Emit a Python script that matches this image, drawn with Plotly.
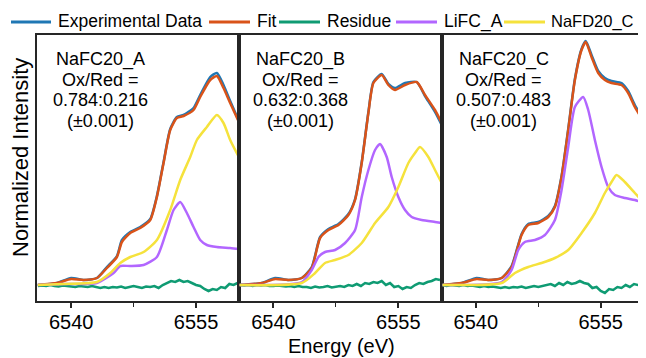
import plotly.graph_objects as go
from plotly.subplots import make_subplots

FONT = "Liberation Sans, Arial, sans-serif"

# ---------------- data (energy in eV, normalized intensity) ----------------
panel_names = ["NaFC20_A", "NaFC20_B", "NaFC20_C"]
ratio_labels = ["0.784:0.216", "0.632:0.368", "0.507:0.483"]
series_names = ["Experimental Data", "Fit", "Residue", "LiFC_A", "NaFD20_C"]

# Panel A
xA_fit = [6536.0, 6538.3, 6540.0, 6541.5, 6543.1, 6544.3, 6545.5, 6546.1, 6547.1, 6548.3, 6549.5,
          6550.3, 6551.1, 6551.9, 6552.7, 6553.5, 6554.7, 6555.5, 6556.7, 6557.5, 6558.3, 6559.1, 6560.2]
fitA = [0.00, 0.02, 0.06, 0.05, 0.07, 0.17, 0.28, 0.43, 0.52, 0.57, 0.65,
        0.88, 1.22, 1.55, 1.67, 1.69, 1.75, 1.88, 2.05, 2.09, 1.97, 1.82, 1.62]
expA = [0.00, 0.02, 0.07, 0.05, 0.07, 0.18, 0.29, 0.45, 0.53, 0.58, 0.66,
        0.89, 1.23, 1.56, 1.68, 1.70, 1.77, 1.90, 2.08, 2.12, 2.00, 1.84, 1.63]
xA_li = [6536.0, 6539.1, 6543.1, 6545.1, 6545.9, 6547.1, 6548.7, 6550.3, 6551.5, 6552.3, 6553.1,
         6553.9, 6554.7, 6555.5, 6556.3, 6557.5, 6559.1, 6560.2]
liA = [0.00, 0.01, 0.02, 0.12, 0.19, 0.19, 0.20, 0.28, 0.55, 0.75, 0.83,
       0.72, 0.58, 0.45, 0.40, 0.38, 0.37, 0.36]
xA_na = [6536.0, 6539.1, 6543.1, 6544.7, 6545.9, 6547.1, 6548.7, 6550.3, 6551.9, 6553.1, 6554.3,
         6555.1, 6556.3, 6557.5, 6558.3, 6559.1, 6560.2]
naA = [0.00, 0.01, 0.03, 0.12, 0.22, 0.28, 0.33, 0.45, 0.75, 1.05, 1.28,
       1.45, 1.58, 1.70, 1.62, 1.45, 1.27]

# Panel B
xB_fit = [6535.9, 6538.6, 6540.2, 6541.8, 6543.4, 6544.6, 6545.6, 6546.6, 6547.8, 6549.0, 6549.8,
          6550.6, 6551.4, 6552.0, 6553.0, 6553.8, 6554.6, 6555.8, 6557.2, 6558.2, 6559.4, 6560.2]
fitB = [0.00, 0.02, 0.06, 0.05, 0.07, 0.17, 0.47, 0.55, 0.60, 0.70, 0.85,
        1.22, 1.72, 2.02, 2.10, 2.00, 1.95, 2.00, 2.03, 1.90, 1.75, 1.62]
expB = [0.00, 0.02, 0.07, 0.05, 0.07, 0.18, 0.48, 0.56, 0.61, 0.71, 0.86,
        1.23, 1.73, 2.03, 2.11, 2.01, 1.97, 2.02, 2.03, 1.89, 1.73, 1.60]
xB_li = [6535.9, 6543.4, 6544.6, 6545.4, 6546.2, 6547.4, 6548.6, 6549.8, 6550.6, 6551.4, 6552.2,
         6552.8, 6553.6, 6554.2, 6555.0, 6555.8, 6556.6, 6557.8, 6559.4, 6560.2]
liB = [0.00, 0.03, 0.15, 0.28, 0.33, 0.35, 0.42, 0.55, 0.88, 1.15, 1.35,
       1.41, 1.28, 1.08, 0.88, 0.75, 0.68, 0.65, 0.63, 0.62]
xB_na = [6535.9, 6543.4, 6545.0, 6546.2, 6547.4, 6549.0, 6550.6, 6552.2, 6553.8, 6555.0, 6556.2,
         6557.0, 6557.6, 6558.6, 6559.4, 6560.2]
naB = [0.00, 0.02, 0.12, 0.22, 0.25, 0.30, 0.42, 0.62, 0.78, 0.98, 1.22,
       1.32, 1.38, 1.28, 1.15, 1.02]

# Panel C
xC_fit = [6536.0, 6538.3, 6540.1, 6541.5, 6543.1, 6544.3, 6545.5, 6546.3, 6547.5, 6548.7, 6549.5,
          6550.3, 6551.1, 6551.9, 6552.7, 6553.2, 6553.9, 6554.7, 6555.5, 6556.3, 6557.5, 6558.3,
          6559.1, 6560.2]
fitC = [0.00, 0.02, 0.06, 0.05, 0.07, 0.18, 0.50, 0.60, 0.62, 0.68, 0.78,
        1.08, 1.55, 2.05, 2.35, 2.43, 2.28, 2.12, 2.05, 2.02, 2.00, 1.92,
        1.78, 1.63]
expC = [0.00, 0.02, 0.07, 0.05, 0.07, 0.19, 0.51, 0.61, 0.63, 0.69, 0.79,
        1.09, 1.56, 2.06, 2.36, 2.44, 2.30, 2.14, 2.07, 2.04, 2.02, 1.94,
        1.80, 1.65]
xC_li = [6536.0, 6543.1, 6544.3, 6545.1, 6545.9, 6547.1, 6548.3, 6549.5, 6550.3, 6551.1, 6551.9,
         6552.9, 6553.5, 6554.3, 6555.1, 6555.9, 6556.7, 6557.9, 6559.1, 6560.2]
liC = [0.00, 0.03, 0.15, 0.35, 0.43, 0.45, 0.50, 0.65, 0.95, 1.38, 1.78,
       1.88, 1.75, 1.45, 1.18, 0.98, 0.90, 0.87, 0.85, 0.82]
xC_na = [6536.0, 6543.1, 6544.7, 6546.3, 6547.9, 6549.5, 6551.1, 6552.7, 6554.3, 6555.5, 6556.3,
         6556.9, 6557.9, 6559.1, 6560.2]
naC = [0.00, 0.02, 0.12, 0.18, 0.22, 0.27, 0.35, 0.52, 0.72, 0.92, 1.03,
       1.10, 1.03, 0.92, 0.82]

# Residue (shared energy grid, 0.5 eV)
x_res = [6536.0, 6536.5, 6537.0, 6537.5, 6538.0, 6538.5, 6539.0, 6539.5,
         6540.0, 6540.5, 6541.0, 6541.5, 6542.0, 6542.5, 6543.0, 6543.5,
         6544.0, 6544.5, 6545.0, 6545.5, 6546.0, 6546.5, 6547.0, 6547.5,
         6548.0, 6548.5, 6549.0, 6549.5, 6550.0, 6550.5, 6551.0, 6551.5,
         6552.0, 6552.5, 6553.0, 6553.5, 6554.0, 6554.5, 6555.0, 6555.5,
         6556.0, 6556.5, 6557.0, 6557.5, 6558.0, 6558.5, 6559.0, 6559.5,
         6560.0]
resA = [-0.01, -0.005, -0.01, 0.0, -0.01, -0.015, -0.005, -0.01,
        -0.01, -0.02, -0.01, -0.015, -0.02, -0.01, -0.02, -0.03,
        -0.02, -0.03, -0.02, -0.025, -0.015, -0.03, -0.02, -0.01,
        -0.02, -0.03, -0.015, -0.02, -0.01, -0.03, 0.0, 0.02,
        0.04, 0.03, 0.05, 0.03, 0.04, 0.02, 0.0, -0.01,
        -0.04, -0.06, -0.04, -0.05, -0.02, -0.03, 0.01, 0.0,
        0.02]
resB = [0.0, -0.005, 0.0, -0.01, 0.0, -0.005, 0.0, -0.01,
        -0.01, -0.005, -0.01, -0.015, -0.01, -0.02, -0.01, -0.02,
        -0.02, -0.03, -0.015, -0.025, -0.02, -0.01, -0.025, -0.015,
        -0.01, -0.02, 0.0, -0.01, 0.01, -0.01, 0.02, 0.01,
        0.03, 0.02, 0.04, 0.0, 0.02, -0.02, -0.01, -0.04,
        -0.02, -0.03, 0.0, 0.02, 0.01, 0.03, 0.04, 0.06,
        0.05]
resC = [0.0, -0.01, 0.0, -0.005, -0.01, 0.0, -0.01, -0.005,
        -0.01, -0.02, -0.01, -0.02, -0.015, -0.02, -0.03, -0.02,
        -0.03, -0.02, -0.025, -0.015, -0.03, -0.02, -0.01, -0.02,
        -0.01, 0.0, 0.01, -0.01, 0.02, 0.0, 0.03, 0.01,
        0.02, 0.04, 0.02, 0.01, -0.03, -0.02, -0.06, -0.08,
        -0.04, -0.05, -0.02, -0.03, 0.0, -0.02, 0.01, 0.0,
        0.01]

x_ticks = [6540, 6555]
x_range = [6535.9, 6560.2]
y_range = [-0.16, 2.5]

colors = {"Experimental Data": "#1f77b4", "Fit": "#d95319", "Residue": "#0f9b73",
          "LiFC_A": "#b266ff", "NaFD20_C": "#f5e23c"}

panels = [
    dict(exp=(xA_fit, expA), fit=(xA_fit, fitA), res=(x_res, resA), li=(xA_li, liA), na=(xA_na, naA)),
    dict(exp=(xB_fit, expB), fit=(xB_fit, fitB), res=(x_res, resB), li=(xB_li, liB), na=(xB_na, naB)),
    dict(exp=(xC_fit, expC), fit=(xC_fit, fitC), res=(x_res, resC), li=(xC_li, liC), na=(xC_na, naC)),
]

# ---------------- layout geometry ----------------
# The page body has an 8 px default margin, so the figure is sized/placed to compensate.
OFF = 8
W, H = 646 - OFF, 358 - OFF
ML, MR, MT, MB = 37 - OFF, 2, 35 - OFF, 57
PW, PH = W - ML - MR, H - MT - MB


def px_x(page_px):
    return (page_px - OFF - ML) / PW


def px_y(page_py):
    return (H - MB - (page_py - OFF)) / PH


fig = make_subplots(rows=1, cols=3, shared_yaxes=True, horizontal_spacing=0)

keys = ["exp", "fit", "res", "li", "na"]
for i, p in enumerate(panels):
    for k, name in zip(keys, series_names):
        xs, ys = p[k]
        fig.add_trace(go.Scatter(
            x=xs, y=ys, mode="lines", name=name,
            line=dict(color=colors[name], width=2.5,
                      shape="linear" if k == "res" else "spline", smoothing=0.6),
            showlegend=False, legendgroup=name,
        ), row=1, col=i + 1)

axis_common = dict(showline=True, linecolor="#262626", linewidth=1.5, mirror=True,
                   showgrid=False, zeroline=False)
for i in range(3):
    fig.update_xaxes(range=x_range, tickvals=x_ticks, ticktext=[str(t) for t in x_ticks],
                     ticks="outside", ticklen=5, tickwidth=1.5, tickcolor="#262626",
                     minor=dict(dtick=7.5, tick0=6540, ticks="outside",
                                ticklen=4, tickwidth=1.2, tickcolor="#262626"),
                     tickfont=dict(family=FONT, size=20, color="black"),
                     ticklabelstandoff=-3,
                     row=1, col=i + 1, **axis_common)
    fig.update_yaxes(range=y_range, showticklabels=False, ticks="", row=1, col=i + 1, **axis_common)

annotations = []
shapes = []
panel_cx_px = [100.5, 300.5, 504.0]
line_y_px = [59.5, 80.0, 100.5, 121.0]
for i in range(3):
    texts = [panel_names[i], "Ox/Red =", ratio_labels[i], "(±0.001)"]
    for t, yy in zip(texts, line_y_px):
        annotations.append(dict(text=t, x=px_x(panel_cx_px[i]), y=px_y(yy), xref="paper", yref="paper",
                                xanchor="center", yanchor="middle", showarrow=False,
                                font=dict(family=FONT, size=18, color="black")))
annotations.append(dict(text="Normalized Intensity", x=px_x(20.5), y=px_y(157.5), xref="paper", yref="paper",
                        textangle=-90, xanchor="center", yanchor="middle", showarrow=False,
                        font=dict(family=FONT, size=22, color="black")))
annotations.append(dict(text="Energy (eV)", x=px_x(341), y=px_y(346), xref="paper", yref="paper",
                        xanchor="center", yanchor="middle", showarrow=False,
                        font=dict(family=FONT, size=20, color="black")))

# ---------------- legend (drawn as line samples + labels) ----------------
legend_line_px = [(11, 51), (209, 250), (279, 320), (396, 437), (504, 545)]
legend_text_px = [56, 255, 325, 442, 549]
legend_font = [17.5, 17.5, 17.5, 17.5, 16.5]
legend_y_px = 22
for name, (x0, x1), tx, fs in zip(series_names, legend_line_px, legend_text_px, legend_font):
    shapes.append(dict(type="line", xref="paper", yref="paper",
                       x0=px_x(x0), x1=px_x(x1), y0=px_y(legend_y_px), y1=px_y(legend_y_px),
                       line=dict(color=colors[name], width=3)))
    annotations.append(dict(text=name, x=px_x(tx), y=px_y(legend_y_px - 1), xref="paper", yref="paper",
                            xanchor="left", yanchor="middle", showarrow=False,
                            font=dict(family=FONT, size=fs, color="black")))

fig.update_layout(
    width=W, height=H,
    margin=dict(l=ML, r=MR, t=MT, b=MB, autoexpand=False),
    paper_bgcolor="white", plot_bgcolor="white",
    font=dict(family=FONT, color="black"),
    annotations=annotations,
    shapes=shapes,
    showlegend=False,
)

fig.write_html("out.html")
